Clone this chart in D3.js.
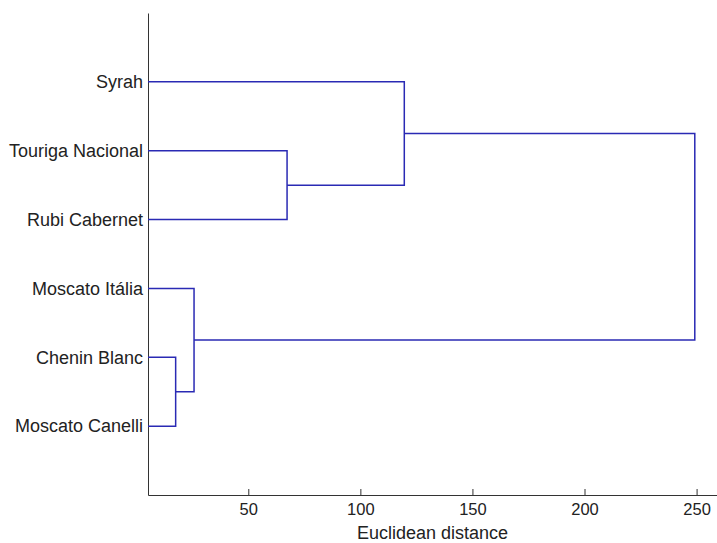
<!DOCTYPE html>
<html>
<head>
<meta charset="utf-8">
<script src="https://cdn.jsdelivr.net/npm/d3@7"></script>
<style>
  body { margin: 0; background: #fff; }
  svg { display: block; }
  .axis text { font-family: "Liberation Sans", Arial, sans-serif; font-size: 18px; fill: #222; }
  .axis.x text { font-size: 16.5px; }
  .axis path, .axis line { stroke: #333; }
</style>
</head>
<body>
<script>
// leaf labels, top to bottom
const leaves = ["Syrah", "Touriga Nacional", "Rubi Cabernet", "Moscato Itália", "Chenin Blanc", "Moscato Canelli"];

// linkage: node ids 0..5 are leaves, 6.. are clusters (in merge order)
const linkLeft = [4, 3, 1, 0, 9];
const linkRight = [5, 6, 2, 8, 7];
const linkHeight = [17.6, 25.8, 67.3, 119.6, 249.2];

const xTicks = [50, 100, 150, 200, 250];

let width = 717;
let height = 543;

let margin = {
    top: 13,
    bottom: 48,
    left: 148,
    right: -2
};

const svg = d3.select("body")
    .append("svg")
    .attr("width", width)
    .attr("height", height);

// scales
let xScale = d3.scaleLinear()
    .domain([5.26, 260])
    .range([margin.left, width - margin.right]);

let yScale = d3.scaleLinear()
    .domain([0, leaves.length + 1])
    .range([margin.top, height - margin.bottom]);

// position of every node: leaves first, then clusters
const nodeY = leaves.map((d, i) => i + 1);
const nodeH = leaves.map(() => xScale.domain()[0]);
linkLeft.forEach((l, i) => {
    nodeY.push((nodeY[l] + nodeY[linkRight[i]]) / 2);
    nodeH.push(linkHeight[i]);
});

// axes
svg.append("g")
    .attr("class", "axis x")
    .attr("transform", `translate(0,${height - margin.bottom})`)
    .call(d3.axisBottom(xScale)
        .tickValues(xTicks)
        .tickSizeInner(-6)
        .tickSizeOuter(0)
        .tickPadding(8));

svg.append("g")
    .attr("class", "axis y")
    .attr("transform", `translate(${margin.left},0)`)
    .call(d3.axisLeft(yScale)
        .tickValues(leaves.map((d, i) => i + 1))
        .tickFormat((d, i) => leaves[i])
        .tickSize(0)
        .tickPadding(5));

// axis label
svg.append("text")
    .attr("x", (margin.left + width) / 2)
    .attr("y", height - 4)
    .attr("text-anchor", "middle")
    .style("font-family", "Liberation Sans, Arial, sans-serif")
    .style("font-size", "18px")
    .style("fill", "#222")
    .text("Euclidean distance");

// dendrogram links
svg.append("g")
    .selectAll("path")
    .data(linkLeft.map((l, i) => ({ a: l, b: linkRight[i], h: linkHeight[i] })))
    .enter()
    .append("path")
    .attr("d", d => {
        const p = d3.path();
        p.moveTo(xScale(nodeH[d.a]), yScale(nodeY[d.a]));
        p.lineTo(xScale(d.h), yScale(nodeY[d.a]));
        p.lineTo(xScale(d.h), yScale(nodeY[d.b]));
        p.lineTo(xScale(nodeH[d.b]), yScale(nodeY[d.b]));
        return p.toString();
    })
    .attr("fill", "none")
    .attr("stroke", "#2a2ab4")
    .attr("stroke-width", 1.5);
</script>
</body>
</html>
